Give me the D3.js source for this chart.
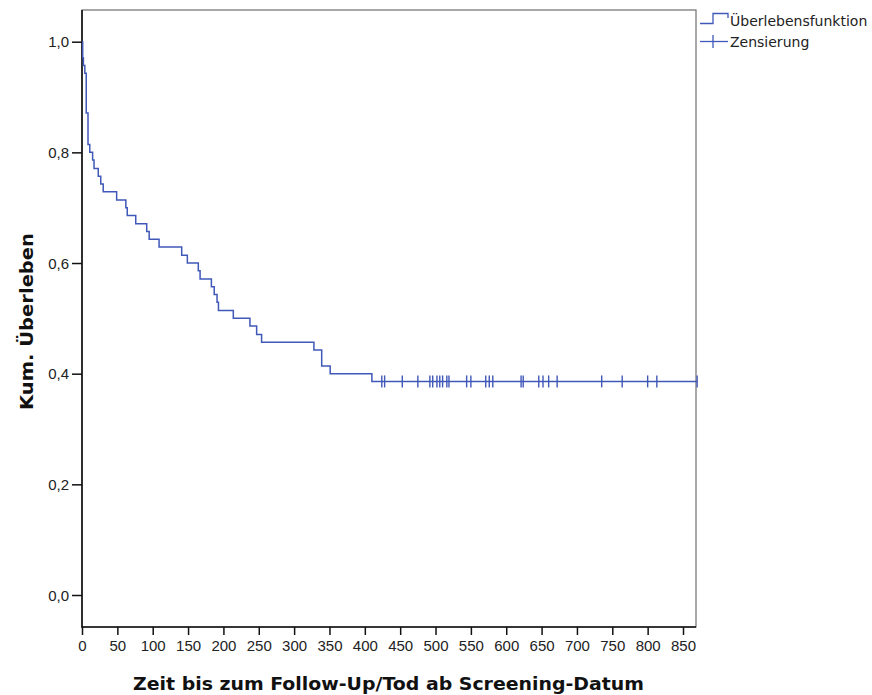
<!DOCTYPE html>
<html><head><meta charset="utf-8">
<script src="https://cdn.jsdelivr.net/npm/d3@7"></script>
<style>
html,body{margin:0;padding:0;background:#fff;}
svg{display:block;}
</style></head>
<body>
<svg id="chart" width="872" height="695"></svg>
<script>
// ---- data ----
const stepTimes = [0, 1, 2, 4, 6, 8.5, 11, 15, 17, 23, 26.5, 30, 49, 62, 64, 76, 91.5, 95, 109, 141,
  149, 164.5, 167, 183, 187, 191, 193, 214, 237.5, 247, 254, 328, 339, 351, 410];
const survival = [1.000, 0.971, 0.957, 0.943, 0.871, 0.814, 0.800, 0.786, 0.771, 0.757,
  0.743, 0.729, 0.714, 0.700, 0.686, 0.671, 0.657, 0.643, 0.629, 0.614,
  0.600, 0.586, 0.571, 0.557, 0.543, 0.529, 0.514, 0.500, 0.486, 0.471,
  0.457, 0.443, 0.414, 0.400, 0.386];
const censorTimes = [424, 428, 453, 475, 492, 496, 502, 506, 510, 516, 519, 544, 550, 571, 576, 581,
  621, 624, 646, 652, 660, 672, 735, 764, 800, 813, 870];
const censorSurvival = 0.386;
const xTicks = [0, 50, 100, 150, 200, 250, 300, 350, 400, 450, 500, 550, 600, 650, 700, 750, 800, 850];
const yTicks = [0.0, 0.2, 0.4, 0.6, 0.8, 1.0];
const xTitle = "Zeit bis zum Follow-Up/Tod ab Screening-Datum";
const yTitle = "Kum. Überleben";
const legendLabels = ["Überlebensfunktion", "Zensierung"];

// ---- layout ----
const svg = d3.select("#chart");
const L = 82, R = 696, T = 10, B = 627;
const lineColor = "#4058b8";

const x = d3.scaleLinear().domain([0, 870]).range([L, L + 870 * (601 / 850)]);
const y = d3.scaleLinear().domain([0, 1]).range([595, 41.7]);

const loc = d3.formatLocale({decimal: ",", thousands: ".", grouping: [3], currency: ["", "€"]});
const fmt = loc.format(".1f");

// frame (top/right)
svg.append("rect").attr("x", L).attr("y", T).attr("width", R - L).attr("height", B - T)
  .attr("fill", "none").attr("stroke", "#6e6e6e").attr("stroke-width", 1.2);

// axes
const gx = svg.append("g").attr("transform", `translate(0,${B})`)
  .call(d3.axisBottom(x).tickValues(xTicks).tickSize(8).tickPadding(5).tickSizeOuter(0));
const gy = svg.append("g").attr("transform", `translate(${L},0)`)
  .call(d3.axisLeft(y).tickValues(yTicks).tickFormat(fmt).tickSize(10).tickPadding(3).tickSizeOuter(0));
[gx, gy].forEach(g => {
  g.select(".domain").remove();
  g.selectAll(".tick line").attr("stroke", "#111").attr("stroke-width", 1.5);
  g.selectAll(".tick text").attr("fill", "#222").style("font-family", "'Liberation Sans', Arial, sans-serif").style("font-size", "15px");
});
gy.selectAll(".tick text").attr("dy", "0.35em");
// axis lines
svg.append("line").attr("x1", L).attr("x2", L).attr("y1", T).attr("y2", B + 0.5).attr("stroke", "#111").attr("stroke-width", 1.6);
svg.append("line").attr("x1", L - 0.5).attr("x2", R).attr("y1", B).attr("y2", B).attr("stroke", "#111").attr("stroke-width", 1.6);

// survival curve
const pts = stepTimes.map((t, i) => [t, survival[i]]);
pts.push([d3.max(censorTimes), survival[survival.length - 1]]);
const line = d3.line().x(d => x(d[0])).y(d => y(d[1])).curve(d3.curveStepAfter);
svg.append("path").datum(pts).attr("d", line).attr("fill", "none")
  .attr("stroke", lineColor).attr("stroke-width", 1.5);

// censor marks
svg.append("g").selectAll("line").data(censorTimes).join("line")
  .attr("x1", d => x(d)).attr("x2", d => x(d))
  .attr("y1", y(censorSurvival) - 6).attr("y2", y(censorSurvival) + 6)
  .attr("stroke", lineColor).attr("stroke-width", 1.4);

// axis titles
const titleFont = "'DejaVu Sans', Verdana, sans-serif";
svg.append("text").attr("x", 388.5).attr("y", 690).attr("text-anchor", "middle")
  .style("font-family", titleFont).style("font-weight", "bold").style("font-size", "17.5px")
  .attr("fill", "#111").attr("textLength", 511).attr("lengthAdjust", "spacingAndGlyphs").text(xTitle);
svg.append("text").attr("transform", "translate(33,321.5) rotate(-90)").attr("text-anchor", "middle")
  .style("font-family", titleFont).style("font-weight", "bold").style("font-size", "17.5px")
  .attr("fill", "#111").attr("textLength", 177).attr("lengthAdjust", "spacingAndGlyphs").text(yTitle);

// legend
const lg = svg.append("g");
lg.append("path").attr("d", "M700,23.5 H713 V13.5 H728 V18").attr("fill", "none")
  .attr("stroke", lineColor).attr("stroke-width", 1.3);
lg.append("line").attr("x1", 700).attr("x2", 728).attr("y1", 41.5).attr("y2", 41.5)
  .attr("stroke", lineColor).attr("stroke-width", 1.3);
lg.append("line").attr("x1", 713).attr("x2", 713).attr("y1", 35).attr("y2", 48)
  .attr("stroke", lineColor).attr("stroke-width", 1.3);
lg.selectAll("text").data(legendLabels).join("text")
  .attr("x", 730).attr("y", (d, i) => 26 + i * 20.5)
  .style("font-family", "'DejaVu Sans', Verdana, sans-serif").style("font-size", "14px")
  .attr("fill", "#222").text(d => d);
</script>
</body></html>
